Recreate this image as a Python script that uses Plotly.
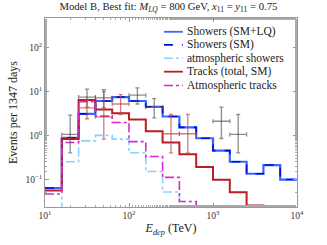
import plotly.graph_objects as go

# Bin edges: log10(E) from 1.0 to 4.0 in steps of 0.2 (15 bins)
log_edges = [1.0, 1.2, 1.4, 1.6, 1.8, 2.0, 2.2, 2.4, 2.6, 2.8, 3.0, 3.2, 3.4, 3.6, 3.8, 4.0]
edges = [10 ** v for v in log_edges]

# Expected events per bin
showers_sm_lq = [0.063, 0.88, 3.1, 6.1, 7.5, 6.1, 4.5, 2.7, 1.52, 0.86, 0.45, 0.25, 0.133, 0.21, 0.098]
showers_sm    = [0.063, 0.88, 3.1, 6.1, 7.5, 6.1, 4.5, 2.7, 1.52, 0.86, 0.45, 0.25, 0.133, 0.21, 0.098]
atm_showers   = [0.001, 0.25, 0.75, 1.0, 0.82, 0.40, 0.15, 0.051, 0.001, 0.001, 0.001, 0.001, 0.001, 0.001, 0.001]
tracks_total  = [0.055, 0.83, 6.4, 3.9, 3.2, 2.3, 1.25, 0.69, 0.37, 0.19, 0.097, 0.05, 0.025, 0.001, 0.001]
atm_tracks    = [0.046, 0.69, 5.9, 2.75, 1.97, 0.72, 0.33, 0.11, 0.031, 0.001, 0.001, 0.001, 0.001, 0.001, 0.001]

# Observed data (bin index, value, lower bound, upper bound)
shower_bins = [1, 2, 3, 5, 6, 10, 11]
shower_obs  = [1.05, 7.5, 7.2, 8.3, 4.4, 2.1, 1.05]
shower_lo   = [0.40, 4.4, 4.3, 5.2, 2.5, 0.85, 0.40]
shower_hi   = [2.9, 11.4, 11.0, 12.2, 6.9, 4.4, 3.0]

track_bins = [2, 3, 4, 7, 8]
track_obs  = [4.25, 2.65, 5.2, 1.09, 1.09]
track_lo   = [2.4, 0.82, 3.0, 0.40, 0.40]
track_hi   = [6.6, 10.0, 8.5, 3.0, 3.0]

x_ticks = [10, 100, 1000, 10000]
x_ticktext = ["10<sup>1</sup>", "10<sup>2</sup>", "10<sup>3</sup>", "10<sup>4</sup>"]
y_ticks = [0.1, 1, 10, 100]
y_ticktext = ["10<sup>\u22121</sup>", "10<sup>0</sup>", "10<sup>1</sup>", "10<sup>2</sup>"]

legend_labels = ["Showers (SM+LQ)", "Showers (SM)", "atmospheric showers",
                 "Tracks (total, SM)", "Atmospheric tracks"]

FONT = "Liberation Serif, DejaVu Serif, serif"

series = [
    (showers_sm_lq, "#3a66ff", 2.2, "solid"),
    (showers_sm, "#0010e0", 1.6, "dash"),
    (atm_showers, "#8ccfff", 1.6, "dashdot"),
    (tracks_total, "#b81e24", 2.0, "solid"),
    (atm_tracks, "#d62ad6", 1.6, "dashdot"),
]

fig = go.Figure()


def step(vals):
    return vals + [vals[-1]]


for (vals, color, width, dash), name in zip(series, legend_labels):
    fig.add_trace(go.Scatter(
        x=edges, y=step(vals), mode="lines", name=name, showlegend=False,
        line=dict(color=color, width=width, dash=dash, shape="hv"),
    ))


def add_data(bins, vals, lo, hi, color):
    xc = [(edges[b] * edges[b + 1]) ** 0.5 for b in bins]
    ex_minus = [xc[i] - edges[b] for i, b in enumerate(bins)]
    ex_plus = [edges[b + 1] - xc[i] for i, b in enumerate(bins)]
    ey_plus = [hi[i] - vals[i] for i in range(len(bins))]
    ey_minus = [vals[i] - lo[i] for i in range(len(bins))]
    fig.add_trace(go.Scatter(
        x=xc, y=vals, mode="markers", showlegend=False,
        marker=dict(size=1, color=color),
        error_x=dict(type="data", symmetric=False, array=ex_plus, arrayminus=ex_minus,
                     color=color, thickness=1.3, width=2),
        error_y=dict(type="data", symmetric=False, array=ey_plus, arrayminus=ey_minus,
                     color=color, thickness=1.3, width=2),
    ))


add_data(shower_bins, shower_obs, shower_lo, shower_hi, "rgba(80,80,80,0.65)")
add_data(track_bins, track_obs, track_lo, track_hi, "rgba(195,70,70,0.7)")

# Custom compact legend (line samples + labels) in paper coordinates
leg_x0, leg_x1, leg_tx = 0.472, 0.547, 0.556
leg_y = [0.927, 0.858, 0.787, 0.716, 0.643]
for (vals, color, width, dash), name, yy in zip(series, legend_labels, leg_y):
    fig.add_shape(type="line", xref="paper", yref="paper",
                  x0=leg_x0, x1=leg_x1, y0=yy, y1=yy,
                  line=dict(color=color, width=min(width, 1.8), dash=dash))
    fig.add_annotation(xref="paper", yref="paper", x=leg_tx, y=yy,
                       xanchor="left", yanchor="middle", showarrow=False,
                       text=name, font=dict(family=FONT, size=11.5, color="#222"))

axis_common = dict(
    type="log", showgrid=False, zeroline=False,
    showline=True, linecolor="#999999", linewidth=1, mirror="ticks",
    ticks="inside", ticklen=4, tickcolor="#999999",
    tickfont=dict(family=FONT, size=9.5, color="#333333"),
    minor=dict(ticks="inside", ticklen=2, tickcolor="#aaaaaa", showgrid=False),
)

fig.update_xaxes(
    **axis_common, range=[1, 4], tickvals=x_ticks, ticktext=x_ticktext,
    title=dict(text="<i>E</i><sub><i>dep</i></sub> (TeV)", font=dict(family=FONT, size=12, color="#222"), standoff=3),
)
fig.update_yaxes(
    **axis_common, range=[-1.635, 2.68], tickvals=y_ticks, ticktext=y_ticktext,
    title=dict(text="Events per 1347 days", font=dict(family=FONT, size=12, color="#222"), standoff=5),
)

fig.update_layout(
    width=327, height=245,
    margin=dict(l=43, r=30, t=18, b=30),
    plot_bgcolor="white", paper_bgcolor="white",
    font=dict(family=FONT, size=10, color="#222"),
    hovermode=False,
    title=dict(
        text="Model B, Best fit: <i>M</i><sub><i>LQ</i></sub> = 800 GeV, <i>x</i><sub>11</sub> = <i>y</i><sub>11</sub> = 0.75",
        x=0.515, xanchor="center", y=0.99, yanchor="top",
        font=dict(family=FONT, size=10.7, color="#222"),
    ),
    showlegend=False,
)

fig.write_html(
    "out.html",
    config={"displayModeBar": False, "staticPlot": True},
    post_script="document.body.style.margin='0px'; document.body.style.padding='0px';",
)
